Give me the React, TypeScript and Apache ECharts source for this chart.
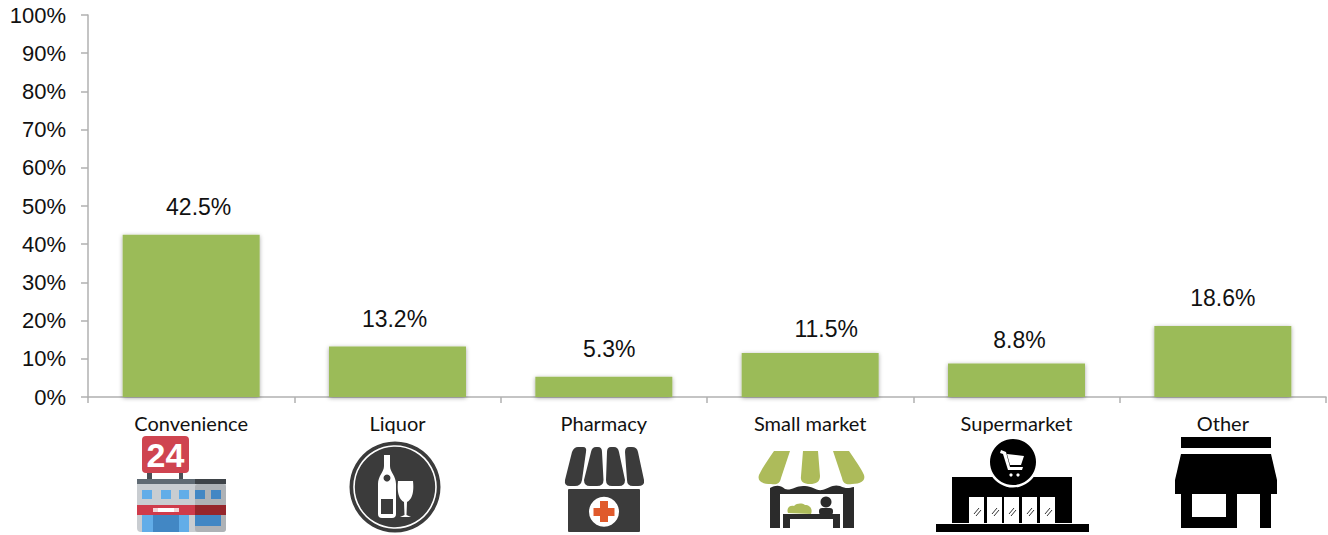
import React, { useEffect, useRef } from "react";
import * as echarts from "echarts";

const categories = ["Convenience", "Liquor", "Pharmacy", "Small market", "Supermarket", "Other"];
const shares = [42.5, 13.2, 5.3, 11.5, 8.8, 18.6];
const BAR_COLOR = "#9BBB59";
const AXIS_COLOR = "#b0b0b0";
const DARK = "#3b3b3b";
const OLIVE = "#adbb5a";
// The reference's value labels were hand-placed: each is nudged off its bar's centre.
const labelNudges = [[7.5, 0], [-3, 0], [5.5, 0], [16, 3], [3, 4], [0, 0]];

const rect = (x: number, y: number, w: number, h: number, fill: string, r = 0) => ({
  type: "rect", shape: { x, y, width: w, height: h, r }, style: { fill }, silent: true,
});
const circle = (cx: number, cy: number, r: number, style: any) => ({
  type: "circle", shape: { cx, cy, r }, style, silent: true,
});
const poly = (points: number[][], fill: string) => ({
  type: "polygon", shape: { points }, style: { fill }, silent: true,
});
const line = (x1: number, y1: number, x2: number, y2: number, stroke: string, lineWidth = 1) => ({
  type: "line", shape: { x1, y1, x2, y2 }, style: { stroke, lineWidth }, silent: true,
});

const shapes: Record<string, string> = {
  bottle: "M384 455 L390 455 L390 466 C390 472 396 476 396 484 L396 514 Q396 518 392 518 L382 518 Q378 518 378 514 L378 484 C378 476 384 472 384 466 Z",
  glass: "M398 481 L413 481 C414 490 413 499 407 502 L406.5 515 L411 517 L400 517 L404.5 515 L404 502 C398 499 397 490 398 481 Z",
  ph1: "M578 447 L583 447 Q587 447 586 452 L582 480 Q581 486 575 486 L570 486 Q564 486 565 480 L572 452 Q574 447 578 447 Z",
  ph2: "M596 447 L598 447 Q602 447 602 452 L603.5 480 Q603.5 486 597 486 L590 486 Q584 486 584 480 L591 452 Q592 447 596 447 Z",
  ph3: "M611 447 L614 447 Q618 447 619 452 L625 480 Q625 486 619 486 L612 486 Q606 486 606 480 L607 452 Q607 447 611 447 Z",
  ph4: "M629 447 L632 447 Q637 447 638 452 L644 480 Q645 486 638 486 L633 486 Q627 486 627 480 L625 452 Q625 447 629 447 Z",
  sm1: "M774 451 L790 451 L781 478 C780 484 776 485 771 484 C762 484 757 481 759 475 C762 468 768 460 774 451 Z",
  sm2: "M803 451 L818 451 L820 476 C820 482 816 484 810 484 C804 484 800 482 801 476 Z",
  sm3: "M833 451 L849 451 C855 460 861 468 864 475 C866 481 860 484 852 484 C847 485 843 484 842 478 Z",
  smBand: "M770 494 L770 488 C776 485 780 485 785 489 C791 491 797 485 805 486 C812 486 816 491 822 490 C829 488 833 484 840 486 C846 489 849 488 854 487 L854 494 Z",
  leaf: "M788 513 C786 508 790 505 794 506 C797 503 802 503 805 505 C810 505 813 509 811 514 Z",
  cart: "M1001 450 L1006 452 L1010 467 L1023 467 L1022 470 L1008 470 L1003 454 L1000 453 Z M1007 454 L1024 456 L1021 465 L1010 465 Z",
};
Object.entries(shapes).forEach(([name, d]) => {
  echarts.graphic.registerShape(name, echarts.graphic.extendPath(d, {}));
});
const icon = (name: string, fill: string) => ({ type: name, x: 0, y: 0, style: { fill }, silent: true });

const convenienceIcon = [
  rect(147, 472, 5, 8, "#4a4f55"), rect(179, 472, 4, 8, "#4a4f55"),
  rect(142, 436, 47, 37, "#cf4450", 4),
  { type: "text", x: 165.5, y: 455, silent: true, style: { text: "24", fill: "#fff", font: "bold 34px 'Liberation Sans'", align: "center", verticalAlign: "middle" } },
  rect(137, 479, 89, 53, "#c9cdd1", 4), rect(195, 484, 31, 48, "#aeb2b6", 3),
  rect(137, 479, 58, 5, "#5f6a73"), rect(195, 479, 31, 5, "#3e4348"),
  ...[142, 161, 179].map((x) => rect(x, 490, 10, 9, "#62ade8")),
  ...[195, 211].map((x) => rect(x, 490, 10, 9, "#4287c4")),
  rect(137, 505, 58, 10, "#cf3b4b"), rect(195, 505, 31, 10, "#96262c"),
  rect(153, 508, 26, 4, "#f4d6d8"), rect(158, 508, 16, 4, "#ffffff"),
  rect(142, 515, 47, 17, "#62ade8"), rect(153, 515, 26, 17, "#4287c4"),
  rect(195, 515, 26, 11, "#4287c4"),
];
const liquorIcon = [
  circle(395, 487, 45.5, { fill: DARK }),
  circle(395, 487, 41, { fill: "none", stroke: "#fff", lineWidth: 1.6 }),
  icon("bottle", "#fff"),
  rect(381, 499, 12, 15, DARK),
  circle(387, 478, 3.5, { fill: DARK }),
  icon("glass", "#fff"),
];
const pharmacyIcon = [
  icon("ph1", DARK), icon("ph2", DARK), icon("ph3", DARK), icon("ph4", DARK),
  rect(568, 489, 72, 43, DARK, 1),
  circle(604, 511.7, 15, { fill: "#fff" }),
  rect(600, 501, 8, 21, "#e05a2c"), rect(593.5, 508, 21, 8, "#e05a2c"),
];
const marketIcon = [
  icon("sm1", OLIVE), icon("sm2", OLIVE), icon("sm3", OLIVE),
  icon("smBand", "#2b2b2b"),
  rect(770, 494, 10, 34, "#2b2b2b"), rect(843, 494, 11, 34, "#2b2b2b"),
  rect(783, 514, 57, 5, "#2b2b2b"), rect(783, 514, 7, 14, "#2b2b2b"), rect(833, 514, 7, 14, "#2b2b2b"),
  circle(826, 502, 5.5, { fill: "#2b2b2b" }), rect(819, 508, 14, 7, "#2b2b2b", 3),
  icon("leaf", OLIVE),
];
const superIcon = [
  rect(952, 477, 120, 46, "#000"),
  ...[969, 987, 1004, 1022, 1040].flatMap((x) => [
    rect(x, 497, 15, 26, "#fff"),
    line(x + 5, 514, x + 10, 508, "#333"), line(x + 7, 516, x + 12, 510, "#333"),
  ]),
  rect(936, 524, 153, 8, "#000"),
  circle(1013, 462, 25.5, { fill: "#fff" }),
  circle(1013, 462, 23, { fill: "#000" }),
  icon("cart", "#fff"),
  circle(1011, 475, 1.6, { fill: "#fff" }), circle(1018, 475, 1.6, { fill: "#fff" }),
];
const otherIcon = [
  rect(1181, 437, 90, 11, "#000"),
  poly([[1181, 454], [1271, 454], [1277, 480], [1277, 494], [1175, 494], [1175, 480]], "#000"),
  rect(1181, 494, 90, 34, "#000"),
  rect(1192, 494, 34, 23, "#fff"),
  rect(1237, 494, 23, 34, "#fff"),
];

export default function App() {
  const ref = useRef<HTMLDivElement>(null);
  useEffect(() => {
    document.body.style.margin = "0";
    const chart = echarts.init(ref.current!, undefined, { renderer: "svg" });
    chart.setOption({
      animation: false,
      backgroundColor: "#fff",
      grid: { left: 88, right: 2, top: 15, bottom: 138 },
      xAxis: {
        type: "category",
        data: categories,
        axisLine: { lineStyle: { color: AXIS_COLOR, width: 1.5 } },
        axisTick: { show: true, length: 6, lineStyle: { color: AXIS_COLOR, width: 1.5 } },
        axisLabel: { interval: 0, margin: 16, color: "#111", fontFamily: "Lato", fontSize: 20 },
      },
      yAxis: {
        type: "value",
        min: 0,
        max: 100,
        interval: 10,
        splitLine: { show: false },
        axisLine: { show: true, lineStyle: { color: AXIS_COLOR, width: 1.5 } },
        axisTick: { show: true, length: 7, lineStyle: { color: AXIS_COLOR, width: 1.5 } },
        axisLabel: { margin: 22, color: "#111", fontFamily: "Liberation Sans", fontSize: 22, formatter: "{value}%" },
      },
      series: [{
        type: "bar",
        data: shares.map((value, i) => ({ value, label: { offset: labelNudges[i] } })),
        barWidth: 137,
        itemStyle: { color: BAR_COLOR, shadowColor: "rgba(0,0,0,0.35)", shadowBlur: 4, shadowOffsetY: 1 },
        label: {
          show: true, position: "top", distance: 16, color: "#111",
          fontFamily: "Liberation Sans", fontSize: 23,
          formatter: (p: any) => `${p.value.toFixed(1)}%`,
        },
      }],
      graphic: [{
        type: "group",
        children: [...convenienceIcon, ...liquorIcon, ...pharmacyIcon, ...marketIcon, ...superIcon, ...otherIcon],
      }],
    });
    return () => chart.dispose();
  }, []);
  return <div ref={ref} style={{ width: 1328, height: 535 }} />;
}
